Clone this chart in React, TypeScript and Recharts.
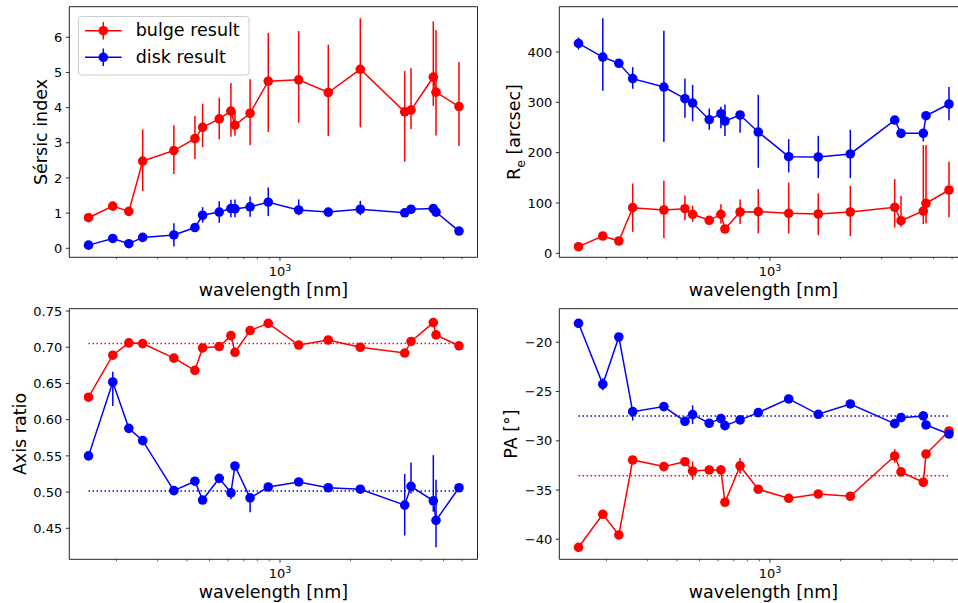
import {
  ComposedChart,
  Line,
  XAxis,
  YAxis,
  ErrorBar,
  ReferenceLine,
  ReferenceArea,
  Legend,
} from "recharts";
import type { ReactNode } from "react";

// filter wavelengths in nm, shared by all four panels
const wavelengths = [152, 193, 226, 259, 352, 433, 467, 550, 617, 642, 745, 891, 1202, 1608, 2204, 3411, 3630, 4520, 4642, 5820];

// Sérsic index
const sersicBulge = [0.87, 1.2, 1.05, 2.48, 2.78, 3.12, 3.44, 3.68, 3.9, 3.5, 3.84, 4.75, 4.79, 4.43, 5.09, 3.88, 3.93, 4.87, 4.44, 4.03];
const sersicBulgeErr = [[0.08, 0.08], [0.08, 0.08], [0.08, 0.08], [0.85, 0.9], [0.67, 0.72], [0.58, 0.64], [0.56, 0.67], [0.58, 0.6], [0.73, 0.8], [0.3, 0.4], [0.91, 0.97], [1.44, 1.37], [1.22, 1.39], [1.24, 1.36], [1.65, 1.45], [1.42, 1.16], [0.54, 1.2], [0.82, 1.58], [1.23, 1.77], [1.12, 1.27]];
const sersicDisk = [0.09, 0.28, 0.13, 0.31, 0.38, 0.59, 0.94, 1.03, 1.13, 1.12, 1.18, 1.31, 1.09, 1.03, 1.11, 1.01, 1.11, 1.13, 1.03, 0.49];
const sersicDiskErr = [[0.05, 0.05], [0.05, 0.05], [0.05, 0.05], [0.05, 0.05], [0.33, 0.33], [0.05, 0.05], [0.21, 0.23], [0.3, 0.31], [0.25, 0.25], [0.24, 0.27], [0.28, 0.29], [0.39, 0.42], [0.15, 0.3], [0.05, 0.05], [0.17, 0.24], [0.05, 0.05], [0.08, 0.08], [0.1, 0.12], [0.1, 0.1], [0.05, 0.05]];

// effective radius [arcsec]
const reBulge = [13.2, 34.4, 24.5, 90.7, 86.1, 88.7, 77.5, 65.6, 77.5, 48.3, 82.1, 82.8, 79.5, 78.1, 82.1, 91.4, 64.8, 84, 99.3, 125.8];
const reBulgeErr = [[3, 3], [3, 3], [3, 3], [48, 48], [56, 58], [23, 26], [15, 17], [6, 6], [18, 20], [5, 5], [24, 25], [43, 45], [40, 61], [42, 41], [48, 52], [40, 56], [12, 49], [26, 131], [40, 116], [54, 56]];
const reDisk = [417, 390, 377.5, 347, 330.4, 307.2, 298.6, 265.5, 277.4, 262.9, 274.8, 241, 192, 191.4, 197.4, 264.8, 238.4, 238.4, 273.4, 296.6];
const reDiskErr = [[12, 12], [67, 77], [5, 5], [20, 23], [109, 112], [38, 40], [36, 36], [20, 22], [29, 14], [30, 33], [35, 6], [71, 74], [31, 35], [42, 42], [48, 48], [5, 5], [8, 8], [16, 5], [5, 5], [32, 34]];

// axis ratio
const qBulge = [0.631, 0.689, 0.706, 0.705, 0.685, 0.668, 0.699, 0.701, 0.716, 0.693, 0.723, 0.733, 0.703, 0.71, 0.7, 0.692, 0.708, 0.734, 0.717, 0.702];
const qBulgeErr = [[0.002, 0.002], [0.002, 0.002], [0.002, 0.002], [0.002, 0.002], [0.002, 0.002], [0.002, 0.002], [0.002, 0.002], [0.002, 0.002], [0.002, 0.002], [0.002, 0.002], [0.002, 0.002], [0.002, 0.002], [0.002, 0.002], [0.002, 0.002], [0.002, 0.002], [0.002, 0.002], [0.002, 0.002], [0.002, 0.002], [0.002, 0.002], [0.002, 0.002]];
const qDisk = [0.55, 0.652, 0.588, 0.571, 0.502, 0.515, 0.489, 0.519, 0.499, 0.536, 0.492, 0.507, 0.514, 0.506, 0.504, 0.482, 0.508, 0.488, 0.461, 0.506];
const qDiskErr = [[0.003, 0.003], [0.033, 0.014], [0.003, 0.003], [0.003, 0.003], [0.003, 0.003], [0.003, 0.003], [0.003, 0.003], [0.003, 0.003], [0.009, 0.005], [0.003, 0.003], [0.02, 0.005], [0.003, 0.003], [0.003, 0.003], [0.003, 0.003], [0.003, 0.003], [0.042, 0.043], [0.01, 0.033], [0.015, 0.063], [0.037, 0.056], [0.003, 0.003]];
const qBulgeMean = 0.705;
const qDiskMean = 0.5015;

// position angle [deg]
const paBulge = [-40.81, -37.46, -39.56, -31.95, -32.62, -32.12, -33.06, -32.96, -32.96, -36.24, -32.55, -34.92, -35.84, -35.4, -35.63, -31.54, -33.16, -34.21, -31.34, -29.0];
const paBulgeErr = [[0.15, 0.15], [0.15, 0.15], [0.15, 0.15], [0.15, 0.15], [0.15, 0.15], [0.15, 0.15], [0.9, 0.95], [0.15, 0.15], [0.5, 0.5], [0.15, 0.15], [0.8, 0.8], [0.15, 0.15], [0.15, 0.15], [0.15, 0.15], [0.15, 0.15], [0.7, 0.7], [0.15, 0.15], [0.15, 0.15], [0.15, 0.15], [0.15, 0.15]];
const paDisk = [-18.07, -24.26, -19.46, -27.04, -26.53, -28.02, -27.34, -28.22, -27.75, -28.46, -27.88, -27.14, -25.75, -27.31, -26.26, -28.26, -27.65, -27.48, -28.39, -29.31];
const paDiskErr = [[0.15, 0.15], [0.6, 0.6], [0.15, 0.15], [0.9, 0.3], [0.15, 0.15], [0.15, 0.15], [0.95, 0.95], [0.15, 0.15], [0.3, 0.3], [0.15, 0.15], [0.4, 0.4], [0.15, 0.15], [0.15, 0.15], [0.15, 0.15], [0.15, 0.15], [0.15, 0.15], [0.15, 0.15], [0.3, 0.5], [0.15, 0.15], [0.15, 0.15]];
const paBulgeMean = -33.54;
const paDiskMean = -27.48;

const xTicks = [200, 300, 400, 500, 600, 700, 800, 900, 1000, 2000, 3000, 4000, 5000, 6000];
const xDomain = [125.8, 6982];

const RED = "#ff0000";
const BLUE = "#0000ff";
const FONT = "DejaVu Sans";

const legendItems = [
  { name: "bulge result", color: RED },
  { name: "disk result", color: BLUE },
];

function buildRows(bulge: number[], bulgeErr: number[][], disk: number[], diskErr: number[][]) {
  return wavelengths.map((wl, i) => ({
    wl,
    bulge: bulge[i],
    bulgeErr: bulgeErr[i],
    disk: disk[i],
    diskErr: diskErr[i],
  }));
}

function XTick(props: any) {
  const { x, y, payload } = props;
  const major = payload.value === 1000;
  return (
    <g>
      <line x1={x} x2={x} y1={y} y2={y + (major ? 3.5 : 2)} stroke="#000" strokeWidth={major ? 0.8 : 0.6} />
      {major && (
        <text x={x} y={y + 19} textAnchor="middle" fontSize={13} fontFamily={FONT} fill="#000">
          10<tspan dy={-5.5} fontSize={9}>3</tspan>
        </text>
      )}
    </g>
  );
}

function makeYTick(fmt: (v: number) => string) {
  return (props: any) => {
    const { x, y, payload } = props;
    return (
      <g>
        <line x1={x} x2={x - 3.5} y1={y} y2={y} stroke="#000" strokeWidth={0.8} />
        <text x={x - 7} y={y} dy="0.36em" textAnchor="end" fontSize={13} fontFamily={FONT} fill="#000">
          {fmt(payload.value)}
        </text>
      </g>
    );
  };
}

function LegendBox() {
  return (
    <svg width={172} height={60} style={{ display: "block" }}>
      <rect x={0.5} y={0.5} width={170.5} height={58.5} rx={3} fill="#fff" fillOpacity={0.8} stroke="#cccccc" />
      {legendItems.map((it, i) => {
        const cy = 14.7 + i * 26.6;
        return (
          <g key={it.name}>
            <line x1={7} x2={43.7} y1={cy} y2={cy} stroke={it.color} strokeWidth={1.5} />
            <line x1={25.3} x2={25.3} y1={cy - 8.8} y2={cy + 8.8} stroke={it.color} strokeWidth={1.5} />
            <circle cx={25.3} cy={cy} r={4.8} fill={it.color} />
            <text x={57.7} y={cy + 5.5} fontSize={17.5} fontFamily={FONT} fill="#000">
              {it.name}
            </text>
          </g>
        );
      })}
    </svg>
  );
}

interface PanelProps {
  left: number;
  top: number;
  width: number;
  height: number;
  axisW: number;
  axisH: number;
  plotTop: number;
  data: any[];
  yDomain: number[];
  yTicks: number[];
  yFmt: (v: number) => string;
  yTitle: ReactNode;
  yTitleOffset: number;
  means?: number[];
  legend?: boolean;
}

function Panel(p: PanelProps) {
  return (
    <div style={{ position: "absolute", left: p.left, top: p.top }}>
      <ComposedChart
        width={p.width}
        height={p.height}
        margin={{ top: p.plotTop, right: 1.5, bottom: 0, left: 0 }}
        data={p.data}
      >
        <XAxis
          dataKey="wl"
          type="number"
          scale="log"
          domain={xDomain}
          allowDataOverflow
          ticks={xTicks}
          interval={0}
          height={p.axisH}
          tickSize={0}
          tickMargin={0}
          tickLine={false}
          axisLine={false}
          tick={XTick}
          label={(lp: any) => {
            const vb = lp.viewBox;
            return (
              <text x={vb.x + vb.width / 2} y={vb.y + 39} textAnchor="middle" fontSize={17.5} fontFamily={FONT} fill="#000">
                wavelength [nm]
              </text>
            );
          }}
        />
        <YAxis
          type="number"
          domain={p.yDomain}
          allowDataOverflow
          ticks={p.yTicks}
          interval={0}
          width={p.axisW}
          tickSize={0}
          tickMargin={0}
          tickLine={false}
          axisLine={false}
          tick={makeYTick(p.yFmt)}
          label={(lp: any) => {
            const vb = lp.viewBox;
            const tx = vb.x + vb.width - p.yTitleOffset;
            const ty = vb.y + vb.height / 2;
            return (
              <text x={tx} y={ty} transform={`rotate(-90 ${tx} ${ty})`} textAnchor="middle" fontSize={17.5} fontFamily={FONT} fill="#000">
                {p.yTitle}
              </text>
            );
          }}
        />
        <ReferenceArea
          x1={xDomain[0]}
          x2={xDomain[1]}
          y1={p.yDomain[0]}
          y2={p.yDomain[1]}
          fill="none"
          stroke="#222"
          strokeWidth={1}
          fillOpacity={0}
          ifOverflow="visible"
        />
        {p.means && (
          <ReferenceLine
            segment={[{ x: wavelengths[0], y: p.means[0] }, { x: wavelengths[wavelengths.length - 1], y: p.means[0] }]}
            stroke={RED}
            strokeWidth={1.5}
            strokeDasharray="1.5 2.5"
          />
        )}
        {p.means && (
          <ReferenceLine
            segment={[{ x: wavelengths[0], y: p.means[1] }, { x: wavelengths[wavelengths.length - 1], y: p.means[1] }]}
            stroke={BLUE}
            strokeWidth={1.5}
            strokeDasharray="1.5 2.5"
          />
        )}
        <Line
          dataKey="bulge"
          name="bulge result"
          stroke={RED}
          strokeWidth={1.5}
          dot={{ r: 4.8, fill: RED, stroke: RED, strokeWidth: 0 }}
          activeDot={false}
          isAnimationActive={false}
        >
          <ErrorBar dataKey="bulgeErr" direction="y" width={0} stroke={RED} strokeWidth={1.5} />
        </Line>
        <Line
          dataKey="disk"
          name="disk result"
          stroke={BLUE}
          strokeWidth={1.5}
          dot={{ r: 4.8, fill: BLUE, stroke: BLUE, strokeWidth: 0 }}
          activeDot={false}
          isAnimationActive={false}
        >
          <ErrorBar dataKey="diskErr" direction="y" width={0} stroke={BLUE} strokeWidth={1.5} />
        </Line>
        {p.legend && (
          <Legend
            layout="vertical"
            align="center"
            verticalAlign="middle"
            wrapperStyle={{ left: 78, top: 16, width: 172, height: 60 }}
            content={() => <LegendBox />}
          />
        )}
      </ComposedChart>
    </div>
  );
}

const sersicRows = buildRows(sersicBulge, sersicBulgeErr, sersicDisk, sersicDiskErr);
const reRows = buildRows(reBulge, reBulgeErr, reDisk, reDiskErr);
const qRows = buildRows(qBulge, qBulgeErr, qDisk, qDiskErr);
const paRows = buildRows(paBulge, paBulgeErr, paDisk, paDiskErr);

export default function App() {
  return (
    <div
      style={{
        position: "absolute",
        left: 0,
        top: 0,
        width: 958,
        height: 603,
        overflow: "hidden",
        background: "#fff",
        fontFamily: FONT,
      }}
    >
      <Panel
        left={0}
        top={0}
        width={479}
        height={300}
        axisW={69.3}
        axisH={42.7}
        plotTop={6.7}
        data={sersicRows}
        yDomain={[-0.256, 6.87]}
        yTicks={[0, 1, 2, 3, 4, 5, 6]}
        yFmt={(v) => String(v)}
        yTitle="Sérsic index"
        yTitleOffset={22.6}
        legend
      />
      <Panel
        left={479}
        top={0}
        width={490}
        height={300}
        axisW={80.3}
        axisH={42.7}
        plotTop={6.7}
        data={reRows}
        yDomain={[-7.9, 490]}
        yTicks={[0, 100, 200, 300, 400]}
        yFmt={(v) => String(v)}
        yTitle={
          <>
            R<tspan dy={4.5} fontSize={12.5}>e</tspan>
            <tspan dy={-4.5}> [arcsec]</tspan>
          </>
        }
        yTitleOffset={39.3}
      />
      <Panel
        left={0}
        top={300}
        width={479}
        height={303}
        axisW={69.3}
        axisH={43.7}
        plotTop={8.7}
        data={qRows}
        yDomain={[0.4072, 0.7532]}
        yTicks={[0.45, 0.5, 0.55, 0.6, 0.65, 0.7, 0.75]}
        yFmt={(v) => v.toFixed(2)}
        yTitle="Axis ratio"
        yTitleOffset={43.2}
        means={[qBulgeMean, qDiskMean]}
      />
      <Panel
        left={479}
        top={300}
        width={490}
        height={303}
        axisW={80.3}
        axisH={43.7}
        plotTop={8.7}
        data={paRows}
        yDomain={[-42.03, -16.59]}
        yTicks={[-40, -35, -30, -25, -20]}
        yFmt={(v) => String(v).replace("-", "\u2212")}
        yTitle="PA [°]"
        yTitleOffset={42}
        means={[paBulgeMean, paDiskMean]}
      />
    </div>
  );
}
